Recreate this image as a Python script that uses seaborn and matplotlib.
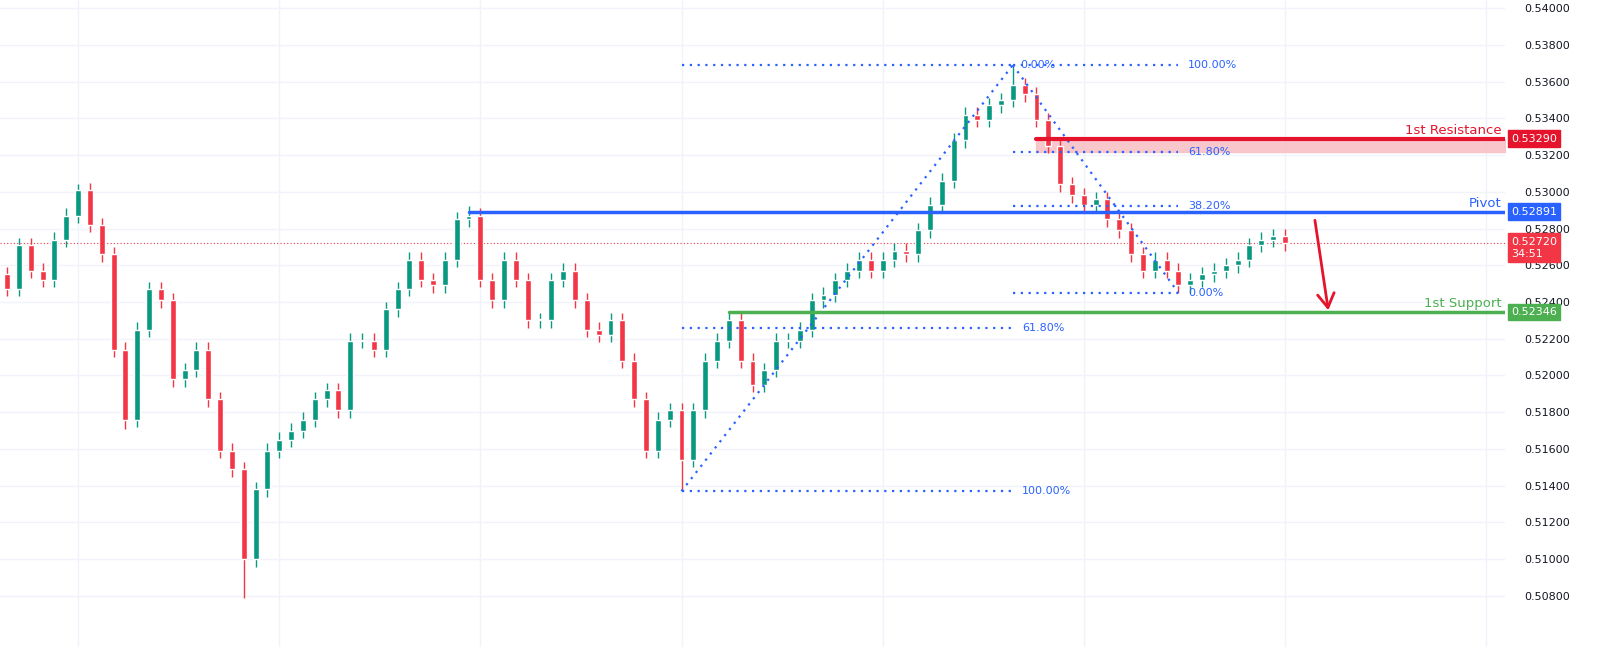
import matplotlib
matplotlib.use("Agg")
import matplotlib.pyplot as plt
import seaborn as sns
import numpy as np

# DATA
closes = [0.5247, 0.5271, 0.5257, 0.5252, 0.5274, 0.5287, 0.5301, 0.5282, 0.5266, 0.5214,
          0.5176, 0.5225, 0.5247, 0.5241, 0.5198, 0.5203, 0.5214, 0.5187, 0.5159, 0.5149,
          0.5100, 0.5138, 0.5159, 0.5165, 0.5170, 0.5176, 0.5187, 0.5192, 0.5181, 0.5219,
          0.5219, 0.5214, 0.5236, 0.5247, 0.5263, 0.5252, 0.5249, 0.5263, 0.5285, 0.5287,
          0.5252, 0.5241, 0.5263, 0.5252, 0.5230, 0.5230, 0.5252, 0.5257, 0.5241, 0.5225,
          0.5222, 0.5230, 0.5208, 0.5187, 0.5159, 0.5176, 0.5181, 0.5154, 0.5181, 0.5208,
          0.5219, 0.5230, 0.5208, 0.5195, 0.5203, 0.5219, 0.5219, 0.5225, 0.5241, 0.5244,
          0.5252, 0.5257, 0.5263, 0.5257, 0.5263, 0.5268, 0.5266, 0.5279, 0.5293, 0.5306,
          0.5328, 0.5342, 0.5339, 0.5347, 0.5350, 0.5358, 0.5353, 0.5339, 0.5325, 0.5304,
          0.5298, 0.5293, 0.5296, 0.5285, 0.5279, 0.5266, 0.5257, 0.5263, 0.5257, 0.5249,
          0.5252, 0.5255, 0.5257, 0.5260, 0.5263, 0.5271, 0.5274, 0.5276, 0.5272]
first_open = 0.5255
wick = 0.0004
extreme_lows = {20: 0.5079, 57: 0.5137, 99: 0.5245, 10: 0.5171}
extreme_highs = {85: 0.5369, 6: 0.5304, 39: 0.5292}

resistance = 0.53290
pivot = 0.52891
support = 0.52346
current = 0.52720
fib_low, fib_high, fib_low2 = 0.5137, 0.5369, 0.5245
i_low, i_high, i_low2 = 57, 85, 99
i_pivot, i_support, i_res = 39, 61, 87
ticks = [0.508, 0.510, 0.512, 0.514, 0.516, 0.518, 0.520, 0.522, 0.524, 0.526,
         0.528, 0.530, 0.532, 0.534, 0.536, 0.538, 0.540]

GREEN = "#089981"
RED = "#F23645"
BLUE = "#2962FF"
LGREEN = "#4CAF50"
RRED = "#E5132B"
FIB = "#2962FF"

sns.set_style("white")
plt.rcParams["font.family"] = ["DejaVu Sans"]

n = len(closes)
opens = [first_open] + closes[:-1]
highs = [extreme_highs.get(i, max(o, c) + wick) for i, (o, c) in enumerate(zip(opens, closes))]
lows = [extreme_lows.get(i, min(o, c) - wick) for i, (o, c) in enumerate(zip(opens, closes))]

fig = plt.figure(figsize=(16.05, 6.47), dpi=100)
ax = fig.add_axes([0, 0, 1505 / 1605, 1])

x = np.arange(n)
cols = [GREEN if c >= o else RED for o, c in zip(opens, closes)]
ax.vlines(x, lows, highs, colors=cols, linewidth=1, zorder=3)
body_b = np.minimum(opens, closes)
body_h = np.maximum(np.abs(np.array(closes) - np.array(opens)), 0.00005)
ax.bar(x, body_h, bottom=body_b, width=0.5, color=cols, zorder=4)

xmax = n - 1 + 18.6
ax.set_xlim(-0.6, xmax)
ax.set_ylim(0.50522, 0.54044)

# grid
for t in ticks:
    ax.axhline(t, color="#f0f3fa", lw=1, zorder=0)
for gx in np.arange(6, xmax, 17):
    ax.axvline(gx, color="#f0f3fa", lw=1, zorder=0)

# fib retracements
dots = dict(color=FIB, lw=1.6, ls=(0, (1, 2.5)), zorder=5)
lvl1 = [fib_low, fib_high - 0.618 * (fib_high - fib_low), fib_high]
for lvl in lvl1:
    ax.plot([i_low, i_high], [lvl, lvl], **dots)
ax.plot([i_low, i_high], [fib_low, fib_high], **dots)
lvl2 = [fib_high, fib_low2 + 0.618 * (fib_high - fib_low2),
        fib_low2 + 0.382 * (fib_high - fib_low2), fib_low2]
for lvl in lvl2:
    ax.plot([i_high, i_low2], [lvl, lvl], **dots)
ax.plot([i_high, i_low2], [fib_high, fib_low2], **dots)
fs = 8
for lvl, lab in zip(lvl1[:2], ["100.00%", "61.80%"]):
    ax.text(i_high + 0.8, lvl, lab, color=FIB, fontsize=fs, va="center")
ax.text(i_high + 0.6, fib_high, "0.00%", color=FIB, fontsize=fs, va="center")
for lvl, lab in zip(lvl2, ["100.00%", "61.80%", "38.20%", "0.00%"]):
    ax.text(i_low2 + 0.8, lvl, lab, color=FIB, fontsize=fs, va="center")

# levels
ax.fill_between([i_res, xmax], lvl2[1], resistance, color="#F7C1C6", alpha=0.9, zorder=2)
ax.plot([i_res, xmax], [resistance, resistance], color=RRED, lw=3, zorder=6)
ax.plot([i_pivot, xmax], [pivot, pivot], color=BLUE, lw=2.5, zorder=6)
ax.plot([i_support, xmax], [support, support], color=LGREEN, lw=2.5, zorder=6)
ax.axhline(current, color=RED, lw=0.8, ls=(0, (1, 2)), zorder=1)
ax.text(xmax - 0.3, resistance + 0.0001, "1st Resistance", color=RRED, fontsize=9.5, ha="right", va="bottom")
ax.text(xmax - 0.3, pivot + 0.0001, "Pivot", color=BLUE, fontsize=9.5, ha="right", va="bottom")
ax.text(xmax - 0.3, support + 0.0001, "1st Support", color=LGREEN, fontsize=9.5, ha="right", va="bottom")

# arrow
ax.annotate("", xy=(n + 2.7, 0.5234), xytext=(n + 1.5, 0.5286),
            arrowprops=dict(arrowstyle="->,head_length=1.0,head_width=0.6", color=RRED, lw=2))

# right price axis
ax.yaxis.tick_right()
ax.set_yticks(ticks)
ax.set_yticklabels([f"{t:.5f}" for t in ticks], fontsize=8, color="#131722")
ax.tick_params(axis="y", length=0, pad=14)
ax.set_xticks([])
for s in ax.spines.values():
    s.set_visible(False)


def tag(y, label, color):
    ax.text(1.004, y, label, transform=ax.get_yaxis_transform(), fontsize=8, color="white",
            va="center", ha="left", linespacing=1.3,
            bbox=dict(boxstyle="square,pad=0.3", fc=color, ec=color))


tag(resistance, "0.53290", RRED)
tag(pivot, "0.52891", BLUE)
tag(support, "0.52346", LGREEN)
tag(current - 0.00025, "0.52720\n34:51", RED)

fig.savefig("out.png", dpi=100)
